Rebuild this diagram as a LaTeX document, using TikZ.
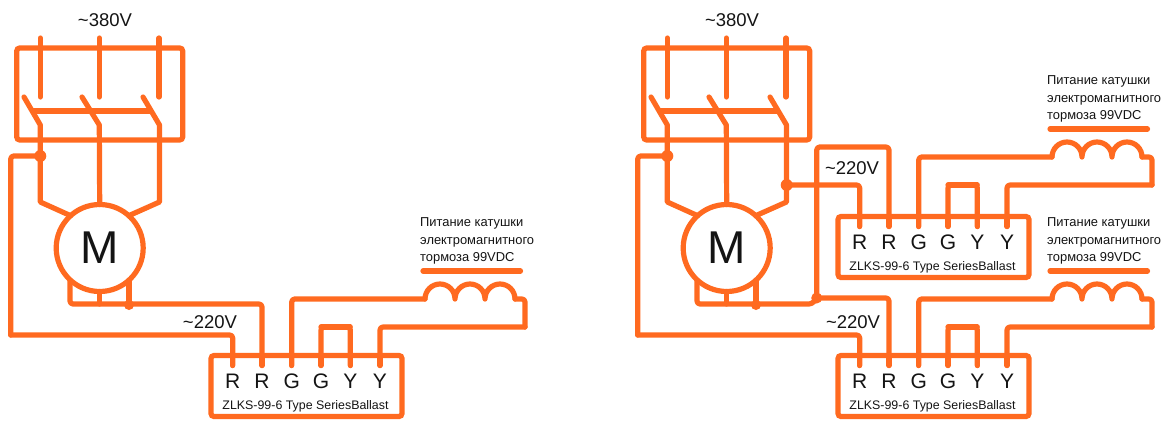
\documentclass[tikz,border=0pt]{standalone}
\usepackage{fontspec}
\setmainfont{Liberation Sans}
\definecolor{wire}{HTML}{FF6A20}
\definecolor{ink}{HTML}{141414}
\tikzset{
  wirepath/.style={draw=wire,line width=5.2pt,line cap=round,line join=round,rounded corners=3pt},
  dotmark/.style={circle,fill=wire,inner sep=0pt,minimum size=12pt},
  volt/.style={text=ink,font=\fontsize{18.5}{20}\selectfont,anchor=base,inner sep=0pt},
  term/.style={text=ink,font=\fontsize{21}{24}\selectfont,anchor=base,inner sep=0pt},
  model/.style={text=ink,font=\fontsize{12.4}{14}\selectfont,anchor=base,inner sep=0pt},
  coiltext/.style={text=ink,font=\fontsize{12.9}{17.5}\selectfont,align=left,anchor=north west,inner sep=0pt},
  ballastbox/.style={draw=wire,line width=5.2pt,rounded corners=3pt,minimum width=191pt,minimum height=61pt,inner sep=0pt,outer sep=0pt},
  motorbody/.style={circle,draw=wire,line width=5.2pt,minimum size=87pt,inner sep=0pt,outer sep=0pt,text=ink,font=\fontsize{46}{50}\selectfont},
  contactbox/.style={draw=wire,line width=5.2pt,rounded corners=3pt,minimum width=166pt,minimum height=92pt,inner sep=0pt,outer sep=0pt}
}
% #1 prefix, #2 dx
\newcommand{\motorunit}[2]{%
  \begin{scope}[shift={(#2,0)}]
    \node[volt] (#1v) at (105,26) {\textasciitilde380V};
    \node[contactbox] (#1box) at (99.7,94) {};
    \node[motorbody] (#1m) at (99.7,248) {M};
    \coordinate (#1a0) at (40.3,38);  \coordinate (#1a1) at (40.3,97);
    \coordinate (#1b0) at (99.3,38);  \coordinate (#1b1) at (99.3,97);
    \coordinate (#1c0) at (159,38);   \coordinate (#1c1) at (159,97);
    \coordinate (#1at) at (24,97);    \coordinate (#1ak) at (40.3,125);
    \coordinate (#1bt) at (82,97);    \coordinate (#1bk) at (99.3,125);
    \coordinate (#1ct) at (143,97);   \coordinate (#1ck) at (159.5,125);
    \coordinate (#1al) at (40.3,202); \coordinate (#1cl) at (159.5,202);
    \coordinate (#1bara) at (33,111); \coordinate (#1barc) at (150,111);
    \coordinate (#1ja) at (40.3,156);
    \coordinate (#1fa) at (10.7,156);
    \coordinate (#1fb) at (10.7,335);
    \coordinate (#1lb) at (70,304);
    \coordinate (#1mb) at (99.7,304);
    \coordinate (#1jb) at (129,304);
    \draw[wirepath] (#1a0) -- (#1a1);
    \draw[wirepath] (#1b0) -- (#1b1);
    \draw[wirepath] (#1c0) -- (#1c1);
    \draw[wirepath,rounded corners=0pt] (#1at) -- (#1ak) -- (#1al) -- (#1m.132);
    \draw[wirepath,rounded corners=0pt] (#1bt) -- (#1bk) -- (#1m.north);
    \draw[wirepath,rounded corners=0pt] (#1ct) -- (#1ck) -- (#1cl) -- (#1m.48);
    \draw[wirepath] (#1bara) -- (#1barc);
    \draw[wirepath] (#1m.228 -| #1lb) -- (#1lb) -- (#1jb);
    \draw[wirepath] (#1m.south) -- (#1mb);
    \draw[wirepath] (#1m.312 -| #1jb) -- (#1jb);
    \node[dotmark] (#1dota) at (#1ja) {};
    \node[dotmark,minimum size=10pt] (#1dotb) at (129,305) {};
    \draw[wirepath] (#1ja) -- (#1fa) -- (#1fb);
  \end{scope}%
}
% #1 prefix, #2 dx, #3 dy
\newcommand{\ballastunit}[3]{%
  \begin{scope}[shift={(#2,#3)}]
    \node[ballastbox] (#1box) at (306.5,386) {};
    \foreach \n/\x/\t in {1/232.7/R,2/262/R,3/291.7/G,4/321/G,5/350.3/Y,6/380/Y}{
      \coordinate (#1p\n) at (\x,365.5);
      \node[term] (#1t\n) at (\x,388) {\t};
      \draw[wirepath] (\x,355.7) -- (#1p\n);
    }
    \node[model] (#1lab) at (305.5,409) {ZLKS-99-6 Type SeriesBallast};
  \end{scope}%
}
% #1 prefix, #2 dx, #3 dy
\newcommand{\coilunit}[3]{%
  \begin{scope}[shift={(#2,#3)}]
    \node[coiltext] (#1txt) at (420,217.5) {Питание катушки\\электромагнитного\\тормоза 99VDC};
    \coordinate (#1ba) at (423,271);  \coordinate (#1bb) at (520.5,271);
    \draw[wirepath] (#1ba) -- (#1bb);
    \coordinate (#1in) at (425,299);
    \coordinate (#1out) at (515,299);
    \coordinate (#1ca) at (525,299);
    \coordinate (#1cb) at (525,327);
    \coordinate (#1ja) at (321,327);
    \coordinate (#1jb) at (350.3,327);
    \draw[wirepath,rounded corners=0pt] (#1in) arc[start angle=180,end angle=0,radius=15pt]
       arc[start angle=180,end angle=0,radius=15pt]
       arc[start angle=180,end angle=0,radius=15pt];
    \draw[wirepath] (#1out) -- (#1ca) -- (#1cb);
    \draw[wirepath] (#1ja) -- (#1jb);
  \end{scope}%
}
\begin{document}
\begin{tikzpicture}[x=1pt,y=-1pt]
  \useasboundingbox (0,0) rectangle (1163,421);
  \fill[white] (0,0) rectangle (1163,421);

  % Left schematic
  \motorunit{L}{0}
  \ballastunit{LB}{0}{0}
  \coilunit{LC}{0}{0}
  \draw[wirepath] (Lfb) -| (LBp1);
  \draw[wirepath] (Ljb) -| (LBp2);
  \draw[wirepath] (LBp3) |- (LCin);
  \draw[wirepath] (LCcb) -| (LBp6);
  \draw[wirepath] (LBp4) -- (LCja) -- (LCjb) -- (LBp5);
  \node[volt] (Lu) at (210,328) {\textasciitilde220V};

  % Right schematic
  \motorunit{R}{627}
  \ballastunit{RB}{627}{0}
  \ballastunit{RT}{627}{-139}
  \coilunit{RC}{627}{0}
  \coilunit{RD}{627}{-142}
  \coordinate (Rjv) at (816.7,298);
  \coordinate (Rtop) at (816.7,147);
  \coordinate (Rbk) at (812,304);
  \coordinate (Rjc) at (786.7,185);
  \draw[wirepath] (Rfb) -| (RBp1);
  \draw[wirepath] (Rjb) -- (Rbk) -- (Rjv);
  \draw[wirepath] (Rjv) -| (RBp2);
  \draw[wirepath] (Rjv) -- (Rtop) -| (RTp2);
  \node[dotmark,minimum size=11pt] (Rdj) at (Rjv) {};
  \node[dotmark] (Rdc) at (Rjc) {};
  \draw[wirepath] (Rjc) -| (RTp1);
  \draw[wirepath] (RBp3) |- (RCin);
  \draw[wirepath] (RCcb) -| (RBp6);
  \draw[wirepath] (RBp4) -- (RCja) -- (RCjb) -- (RBp5);
  \draw[wirepath] (RTp3) |- (RDin);
  \draw[wirepath] (RDcb) -| (RTp6);
  \draw[wirepath] (RTp4) -- (RDja) -- (RDjb) -- (RTp5);
  \node[volt] (Ru) at (852,174) {\textasciitilde220V};
  \node[volt] (Rv) at (853,328) {\textasciitilde220V};
\end{tikzpicture}
\end{document}
